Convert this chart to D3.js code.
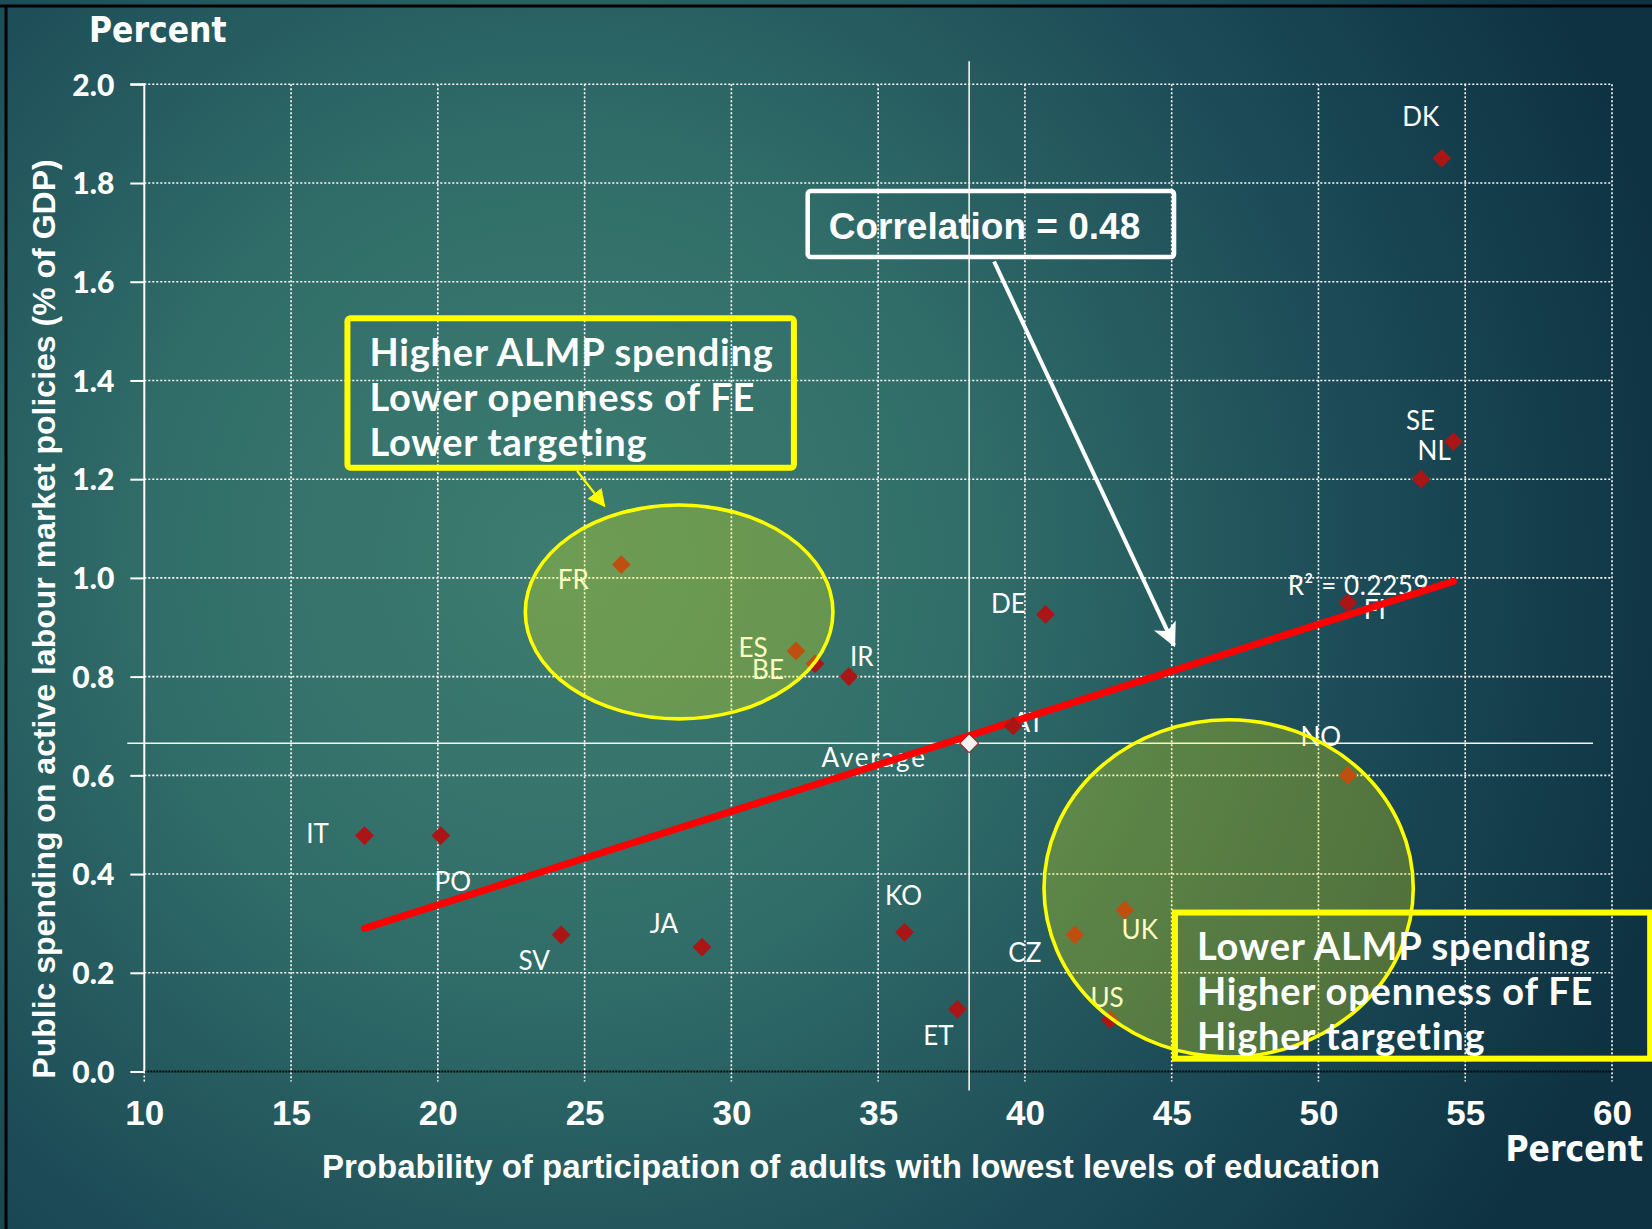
<!DOCTYPE html>
<html>
<head>
<meta charset="utf-8">
<script src="https://cdn.jsdelivr.net/npm/d3@7"></script>
<style>
  html, body { margin: 0; padding: 0; overflow: hidden; background: #1d4d57; }
  svg { display: block; }
</style>
</head>
<body>
<svg id="chart" width="1652" height="1229"></svg>
<script>
// ---- Data -------------------------------------------------------------
const countries = ["DK", "SE", "NL", "FI", "NO", "DE", "AT", "FR", "ES", "BE",
                   "IR", "IT", "PO", "SV", "JA", "KO", "ET", "CZ", "UK", "US"];
// Probability of participation of adults with lowest levels of education (%)
const participation = [54.2, 54.6, 53.5, 51.0, 51.0, 40.7, 39.6, 26.25, 32.2, 32.85,
                       34.0, 17.5, 20.1, 24.2, 29.0, 35.9, 37.7, 41.7, 43.4, 42.9];
// Public spending on active labour market policies (% of GDP)
const almpSpending = [1.85, 1.276, 1.20, 0.95, 0.60, 0.926, 0.70, 1.027, 0.852, 0.826,
                      0.80, 0.478, 0.478, 0.277, 0.252, 0.282, 0.126, 0.277, 0.327, 0.105];
const averageX = 38.1;
const averageY = 0.665;
const trendSlope = 0.01895;
const trendIntercept = -0.0416;
const rSquared = 0.2259;
const correlation = 0.48;
const xTicks = [10, 15, 20, 25, 30, 35, 40, 45, 50, 55, 60];
const yTicks = [0, 0.2, 0.4, 0.6, 0.8, 1.0, 1.2, 1.4, 1.6, 1.8, 2.0];

// Label placement (pixel offsets of each country label from its marker)
const labelOffsets = {
  DK: [-21, -32], SE: [-33, -12], NL: [13, -19], FI: [27, 16], NO: [-27, -29],
  DE: [-37, -1], AT: [15, 6], FR: [-48, 24], ES: [-43, 6], BE: [-47, 15],
  IR: [13, -11], IT: [-47, 7], PO: [12, 55], SV: [-27, 35], JA: [-38, -14],
  KO: [-1, -27], ET: [-19, 36], CZ: [-50, 27], UK: [15, 29], US: [-3, -13]
};

const points = countries.map((c, i) => ({ code: c, x: participation[i], y: almpSpending[i] }));

// ---- Setup ------------------------------------------------------------
const W = 1652, H = 1229;
const svg = d3.select("#chart");
const x = d3.scaleLinear().domain([10, 60]).range([144.3, 1612]);
const y = d3.scaleLinear().domain([0, 2]).range([1071.5, 84.3]);

const defs = svg.append("defs");
const bg = defs.append("radialGradient").attr("id", "bg")
  .attr("gradientUnits", "userSpaceOnUse")
  .attr("cx", 560).attr("cy", 560).attr("r", 1150);
bg.append("stop").attr("offset", 0).attr("stop-color", "#3d7c70");
bg.append("stop").attr("offset", 0.35).attr("stop-color", "#316e69");
bg.append("stop").attr("offset", 0.7).attr("stop-color", "#1c4b57");
bg.append("stop").attr("offset", 1).attr("stop-color", "#0e3242");

defs.append("marker").attr("id", "arrowWhite")
  .attr("viewBox", "0 0 10 10").attr("refX", 9).attr("refY", 5)
  .attr("markerWidth", 6).attr("markerHeight", 6).attr("orient", "auto")
  .attr("markerUnits", "strokeWidth")
  .append("path").attr("d", "M0,0 L10,5 L0,10 L2.5,5 Z").attr("fill", "#ffffff");

defs.append("marker").attr("id", "arrowYellow")
  .attr("viewBox", "0 0 10 10").attr("refX", 9).attr("refY", 5)
  .attr("markerWidth", 8).attr("markerHeight", 8).attr("orient", "auto")
  .attr("markerUnits", "strokeWidth")
  .append("path").attr("d", "M0,0 L10,5 L0,10 Z").attr("fill", "#ffff00");

svg.append("rect").attr("width", W).attr("height", H).attr("fill", "url(#bg)");

// slide frame
svg.append("line").attr("x1", 0).attr("x2", W).attr("y1", 6).attr("y2", 6)
  .attr("stroke", "#000").attr("stroke-width", 3);
svg.append("line").attr("x1", 6).attr("x2", 6).attr("y1", 6).attr("y2", H)
  .attr("stroke", "#000").attr("stroke-width", 3);

// ---- Grid ---------------------------------------------------------------
const grid = svg.append("g").attr("stroke", "#ffffff").attr("stroke-width", 1.6)
  .attr("stroke-dasharray", "2,2").attr("fill", "none");
grid.selectAll(".h").data(yTicks.filter(d => d > 0)).join("line")
  .attr("x1", x(10)).attr("x2", x(60))
  .attr("y1", d => y(d)).attr("y2", d => y(d));
grid.selectAll(".v").data(xTicks.filter(d => d > 10)).join("line")
  .attr("x1", d => x(d)).attr("x2", d => x(d))
  .attr("y1", y(2)).attr("y2", y(0) + 10);

// x axis baseline (dark dotted) with short white ticks
svg.append("line").attr("x1", x(10)).attr("x2", x(60)).attr("y1", y(0)).attr("y2", y(0))
  .attr("stroke", "#0a0a0a").attr("stroke-width", 2).attr("stroke-dasharray", "2,1");
svg.append("line").attr("x1", x(10)).attr("x2", x(10)).attr("y1", y(0)).attr("y2", y(0) + 10)
  .attr("stroke", "#fff").attr("stroke-width", 1.6).attr("stroke-dasharray", "2,2");

// ---- Axes ---------------------------------------------------------------
const yAxis = d3.axisLeft(y).tickValues(yTicks).tickSize(14).tickPadding(16)
  .tickFormat(d3.format(".1f"));
const gy = svg.append("g").attr("transform", `translate(${x(10)},0)`).call(yAxis);
gy.select(".domain").attr("stroke", "#ffffff").attr("stroke-width", 2)
  .attr("d", `M-14,${y(2)}H0V${y(0)}`);
gy.selectAll(".tick line").attr("stroke", "#ffffff").attr("stroke-width", 2);
gy.selectAll(".tick text").attr("fill", "#ffffff")
  .attr("font-family", "Lato, sans-serif").attr("font-weight", 900)
  .attr("font-size", 30).attr("dy", "0.36em");

const xAxis = d3.axisBottom(x).tickValues(xTicks).tickSize(0).tickPadding(0)
  .tickFormat(d3.format("d"));
const gx = svg.append("g").attr("transform", `translate(0,${y(0)})`).call(xAxis);
gx.select(".domain").remove();
gx.selectAll(".tick text").attr("fill", "#ffffff")
  .attr("font-family", "'Liberation Sans Narrow', sans-serif").attr("font-weight", 700)
  .attr("font-size", 35).attr("dy", 0).attr("y", 53);

// axis titles
const titleFont = "'DejaVu Sans Condensed', 'Liberation Sans Narrow', sans-serif";
svg.append("text").attr("x", 89).attr("y", 42).attr("fill", "#fff")
  .attr("font-family", titleFont).attr("font-weight", 700).attr("font-size", 35)
  .text("Percent");
svg.append("text").attr("x", 1643).attr("y", 1161).attr("fill", "#fff")
  .attr("text-anchor", "end")
  .attr("font-family", titleFont).attr("font-weight", 700).attr("font-size", 35)
  .text("Percent");
svg.append("text").attr("x", 851).attr("y", 1178).attr("fill", "#fff")
  .attr("text-anchor", "middle")
  .attr("font-family", "'Liberation Sans Narrow', sans-serif").attr("font-weight", 700)
  .attr("font-size", 33)
  .text("Probability of participation of adults with lowest levels of education");
svg.append("text").attr("transform", "translate(55,619) rotate(-90)").attr("fill", "#fff")
  .attr("text-anchor", "middle")
  .attr("font-family", "'Liberation Sans Narrow', sans-serif").attr("font-weight", 700)
  .attr("font-size", 32)
  .text("Public spending on active labour market policies (% of GDP)");

// ---- Average reference lines ---------------------------------------------
svg.append("line").attr("x1", x(averageX)).attr("x2", x(averageX))
  .attr("y1", y(2) - 23).attr("y2", y(0) + 19)
  .attr("stroke", "#f4f4f4").attr("stroke-width", 1.6);
svg.append("line").attr("x1", x(10) - 17).attr("x2", x(60) - 19)
  .attr("y1", y(averageY)).attr("y2", y(averageY))
  .attr("stroke", "#f4f4f4").attr("stroke-width", 1.6);

// ---- Labels ------------------------------------------------------------------
const labelFont = "Lato, 'Open Sans', sans-serif";
svg.append("g").selectAll("text").data(points).join("text")
  .attr("x", d => x(d.x) + labelOffsets[d.code][0])
  .attr("y", d => y(d.y) + labelOffsets[d.code][1])
  .attr("text-anchor", "middle").attr("fill", "#ffffff")
  .attr("font-family", labelFont).attr("font-size", 26)
  .text(d => d.code);
svg.append("text").attr("x", x(averageX) - 95).attr("y", y(averageY) + 24)
  .attr("text-anchor", "middle").attr("fill", "#ffffff")
  .attr("font-family", labelFont).attr("font-size", 26).attr("letter-spacing", 1.8)
  .text("Average");

const xMin = d3.min(participation), xMax = d3.max(participation);
svg.append("text").attr("x", x(xMax) - 95).attr("y", y(trendSlope * xMax + trendIntercept) + 14)
  .attr("text-anchor", "middle").attr("fill", "#ffffff")
  .attr("font-family", labelFont).attr("font-size", 26).attr("letter-spacing", 0.6)
  .text(`R² = ${rSquared}`);

// ---- Linear trend -----------------------------------------------------------
svg.append("line")
  .attr("x1", x(xMin)).attr("y1", y(trendSlope * xMin + trendIntercept))
  .attr("x2", x(xMax)).attr("y2", y(trendSlope * xMax + trendIntercept))
  .attr("stroke", "#ff0000").attr("stroke-width", 7).attr("stroke-linecap", "round");

// ---- Markers ----------------------------------------------------------------
const diamond = d3.symbol().type(d3.symbolSquare).size(175);
svg.append("g").selectAll("path").data(points).join("path")
  .attr("d", diamond)
  .attr("transform", d => `translate(${x(d.x)},${y(d.y)}) rotate(45)`)
  .attr("fill", "#aa1515");
svg.append("path").attr("d", diamond)
  .attr("transform", `translate(${x(averageX)},${y(averageY)}) rotate(45)`)
  .attr("fill", "#f2f2f2").attr("stroke", "#b01818").attr("stroke-width", 1);

// ---- Highlight ellipses -----------------------------------------------------
const ellipses = [
  { cx: 28.22, cy: 0.931, rx: 5.24, ry: 0.2166 },
  { cx: 46.94, cy: 0.371, rx: 6.29, ry: 0.3415 }
];
svg.append("g").selectAll("ellipse").data(ellipses).join("ellipse")
  .attr("cx", d => x(d.cx)).attr("cy", d => y(d.cy))
  .attr("rx", d => x(d.cx + d.rx) - x(d.cx)).attr("ry", d => y(d.cy - d.ry) - y(d.cy))
  .attr("fill", "rgba(255,255,0,0.25)").attr("stroke", "#ffff00").attr("stroke-width", 3.6);

// ---- Annotation boxes ----------------------------------------------------------
function noteBox(x0, y0, x1, y1, stroke, width, lines, fs, spacing, lineGap, textX, firstBaseline, font, rx) {
  svg.append("rect").attr("x", x(x0)).attr("y", y(y0))
    .attr("width", x(x1) - x(x0)).attr("height", y(y1) - y(y0))
    .attr("rx", rx).attr("fill", "none").attr("stroke", stroke).attr("stroke-width", width);
  lines.forEach((t, i) => {
    svg.append("text").attr("x", x(x0) + textX).attr("y", y(y0) + firstBaseline + i * lineGap)
      .attr("fill", "#ffffff").attr("font-family", font).attr("font-weight", 700)
      .attr("font-size", fs).attr("letter-spacing", spacing).text(t);
  });
}
const boxFont = "Lato, 'Open Sans', sans-serif";
noteBox(16.92, 1.526, 32.13, 1.223, "#ffff00", 6,
  ["Higher ALMP spending", "Lower openness of FE", "Lower targeting"],
  38, 0.8, 45, 22, 48, boxFont, 3);
noteBox(45.11, 0.322, 61.3, 0.026, "#ffff00", 6,
  ["Lower ALMP spending", "Higher openness of FE", "Higher targeting"],
  38, 0.8, 45, 22, 47, boxFont, 0);
noteBox(32.6, 1.784, 45.08, 1.650, "#ffffff", 4.5,
  [`Correlation = ${correlation}`],
  37, 0, 0, 21, 48, "'Liberation Sans', Arial, sans-serif", 3);

// arrows from the notes to their regions
svg.append("line").attr("x1", x(24.74)).attr("y1", y(1.217))
  .attr("x2", x(25.67)).attr("y2", y(1.146))
  .attr("stroke", "#ffff00").attr("stroke-width", 2.2).attr("marker-end", "url(#arrowYellow)");
svg.append("line").attr("x1", x(38.95)).attr("y1", y(1.641))
  .attr("x2", x(45.08)).attr("y2", y(0.864))
  .attr("stroke", "#ffffff").attr("stroke-width", 4).attr("marker-end", "url(#arrowWhite)");
</script>
</body>
</html>
